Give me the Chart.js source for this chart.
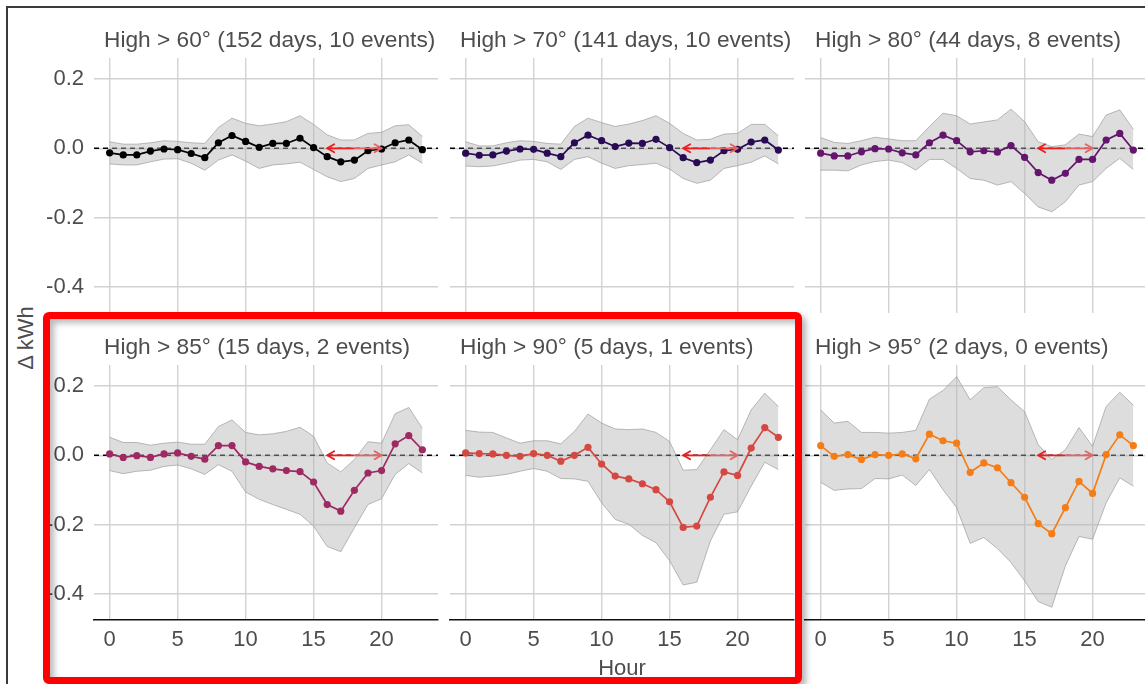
<!DOCTYPE html>
<html>
<head>
<meta charset="utf-8">
<script src="https://cdn.jsdelivr.net/npm/chart.js@4.4.1/dist/chart.umd.min.js"></script>
<style>
html,body{margin:0;padding:0;width:1145px;height:684px;overflow:hidden;background:#fff;font-family:"Liberation Sans",Arial,sans-serif;}
canvas{position:absolute;}
#frame{position:absolute;left:6px;top:6px;width:1200px;height:800px;border-left:2px solid #3a3a3a;border-top:2px solid #3a3a3a;}
#ylab{position:absolute;left:26px;top:338px;transform:translate(-50%,-50%) rotate(-90deg);font-size:22px;color:#4d4d4d;white-space:nowrap;}
#hl{position:absolute;left:43px;top:312px;width:759px;height:372px;box-sizing:border-box;border:7px solid #ff0000;border-radius:6px;box-shadow:4px 4px 6px rgba(0,0,0,.3), inset 4px 4px 6px rgba(0,0,0,.28);z-index:10;}
</style>
</head>
<body>
<div id="frame"></div>
<div id="ylab">Δ kWh</div>
<div id="root"></div>
<div id="hl"></div>
<script>
// ---------- data ----------
const HOURS = [0,1,2,3,4,5,6,7,8,9,10,11,12,13,14,15,16,17,18,19,20,21,22,23];
const PANEL_TITLES = [
  'High > 60° (152 days, 10 events)',
  'High > 70° (141 days, 10 events)',
  'High > 80° (44 days, 8 events)',
  'High > 85° (15 days, 2 events)',
  'High > 90° (5 days, 1 events)',
  'High > 95° (2 days, 0 events)'
];
const SERIES_COLORS = ['#000004','#280B54','#65156E','#9F2A63','#D44842','#F57D15'];

const MEAN_60  = [-0.013,-0.019,-0.019,-0.008,-0.002,-0.004,-0.015,-0.027,0.016,0.037,0.020,0.003,0.014,0.014,0.029,0.002,-0.024,-0.039,-0.034,-0.007,-0.002,0.016,0.024,-0.004];
const UPPER_60 = [0.019,0.012,0.012,0.016,0.022,0.020,0.016,0.014,0.060,0.087,0.072,0.065,0.070,0.077,0.094,0.069,0.039,0.024,0.024,0.043,0.046,0.065,0.068,0.034];
const LOWER_60 = [-0.045,-0.048,-0.048,-0.039,-0.031,-0.030,-0.043,-0.063,-0.034,-0.019,-0.037,-0.058,-0.048,-0.045,-0.040,-0.061,-0.082,-0.096,-0.087,-0.058,-0.048,-0.039,-0.019,-0.043];

const MEAN_70  = [-0.014,-0.020,-0.019,-0.008,-0.002,-0.003,-0.014,-0.024,0.016,0.038,0.022,0.005,0.015,0.014,0.026,0.002,-0.027,-0.041,-0.034,-0.007,-0.003,0.018,0.024,-0.005];
const UPPER_70 = [0.019,0.007,0.007,0.016,0.022,0.020,0.014,0.012,0.063,0.087,0.074,0.063,0.070,0.080,0.094,0.072,0.043,0.024,0.026,0.041,0.043,0.069,0.069,0.036];
const LOWER_70 = [-0.051,-0.053,-0.051,-0.043,-0.034,-0.032,-0.039,-0.061,-0.032,-0.024,-0.043,-0.058,-0.050,-0.047,-0.043,-0.060,-0.087,-0.101,-0.092,-0.058,-0.050,-0.040,-0.022,-0.045];

const MEAN_80  = [-0.014,-0.022,-0.022,-0.010,-0.001,-0.002,-0.013,-0.019,0.016,0.038,0.022,-0.010,-0.007,-0.011,0.008,-0.026,-0.070,-0.092,-0.072,-0.032,-0.032,0.024,0.043,-0.005];
const UPPER_80 = [0.031,0.017,0.014,0.022,0.032,0.027,0.022,0.022,0.063,0.101,0.094,0.070,0.076,0.082,0.113,0.077,0.019,0.005,0.010,0.041,0.034,0.096,0.111,0.055];
const LOWER_80 = [-0.063,-0.063,-0.065,-0.048,-0.038,-0.034,-0.041,-0.063,-0.032,-0.032,-0.058,-0.087,-0.092,-0.106,-0.096,-0.130,-0.169,-0.183,-0.154,-0.106,-0.096,-0.058,-0.029,-0.061];

const MEAN_85  = [0.004,-0.006,-0.001,-0.006,0.004,0.007,-0.003,-0.011,0.028,0.028,-0.019,-0.032,-0.039,-0.044,-0.047,-0.077,-0.142,-0.161,-0.101,-0.051,-0.044,0.033,0.057,0.016];
const UPPER_85 = [0.052,0.037,0.037,0.029,0.035,0.038,0.032,0.032,0.083,0.102,0.066,0.059,0.062,0.069,0.081,0.055,-0.022,-0.048,-0.012,0.039,0.035,0.120,0.138,0.078];
const LOWER_85 = [-0.044,-0.053,-0.046,-0.043,-0.032,-0.028,-0.039,-0.055,-0.027,-0.046,-0.106,-0.127,-0.142,-0.156,-0.170,-0.204,-0.263,-0.278,-0.209,-0.142,-0.125,-0.055,-0.024,-0.051];

const MEAN_90  = [0.007,0.005,0.004,0.000,-0.003,0.005,0.000,-0.017,0.000,0.023,-0.025,-0.060,-0.068,-0.082,-0.099,-0.134,-0.208,-0.204,-0.121,-0.048,-0.058,0.021,0.080,0.052];
const UPPER_90 = [0.072,0.067,0.066,0.050,0.035,0.042,0.042,0.033,0.069,0.119,0.093,0.076,0.074,0.076,0.066,0.040,-0.043,-0.041,0.016,0.074,0.045,0.131,0.179,0.141];
const LOWER_90 = [-0.058,-0.063,-0.060,-0.055,-0.046,-0.038,-0.046,-0.067,-0.068,-0.075,-0.137,-0.185,-0.199,-0.231,-0.252,-0.304,-0.374,-0.366,-0.247,-0.170,-0.163,-0.089,-0.020,-0.041];

const MEAN_95  = [0.028,-0.003,0.002,-0.012,0.002,0.000,0.004,-0.010,0.061,0.042,0.035,-0.049,-0.022,-0.036,-0.079,-0.121,-0.197,-0.226,-0.151,-0.075,-0.110,0.002,0.059,0.028];
const UPPER_95 = [0.131,0.093,0.098,0.066,0.066,0.064,0.066,0.072,0.162,0.187,0.227,0.160,0.195,0.198,0.160,0.126,0.031,-0.012,0.016,0.080,0.026,0.141,0.182,0.145];
const LOWER_95 = [-0.078,-0.101,-0.097,-0.096,-0.067,-0.068,-0.057,-0.087,-0.041,-0.099,-0.151,-0.254,-0.237,-0.269,-0.309,-0.362,-0.422,-0.438,-0.319,-0.234,-0.242,-0.137,-0.065,-0.089];

const X_TICKS = [0,5,10,15,20];
const X_TICK_LABELS = ['0','5','10','15','20'];
const Y_TICKS = [-0.4,-0.2,0,0.2];
const Y_TICK_LABELS = ['-0.4','-0.2','0.0','0.2'];
const EVENT_WINDOW = [16, 20];
const ZERO_LINE = 0;
const X_TITLE = 'Hour';

const MEANS  = [MEAN_60, MEAN_70, MEAN_80, MEAN_85, MEAN_90, MEAN_95];
const UPPERS = [UPPER_60, UPPER_70, UPPER_80, UPPER_85, UPPER_90, UPPER_95];
const LOWERS = [LOWER_60, LOWER_70, LOWER_80, LOWER_85, LOWER_90, LOWER_95];

// ---------- layout / style ----------
const FONT = '"Liberation Sans", Arial, sans-serif';
const TEXT = '#4d4d4d';
const GRID = '#d2d2d2';
const RIBBON_FILL = 'rgba(180,180,180,0.45)';
const RIBBON_EDGE = 'rgba(150,150,150,0.65)';
const RED1 = '#ee1c1c';
const RED2 = '#e26464';
const XMIN = -1.15, XMAX = 24.15, YMIN = -0.475, YMAX = 0.2605;
const PANEL_W = 344, PANEL_H = 255;
const COL_X = [94, 450, 805], ROW_Y = [58, 365];
const PAD_L = 70, PAD_T = 50, PAD_R = 4, PAD_B = 65;

const refLine = {
  id: 'refLine',
  beforeDatasetsDraw(chart) {
    const {ctx, chartArea: a, scales: {y}} = chart;
    const py = y.getPixelForValue(ZERO_LINE);
    ctx.save();
    ctx.strokeStyle = '#000';
    ctx.lineWidth = 1.5;
    ctx.setLineDash([5, 4]);
    ctx.beginPath(); ctx.moveTo(a.left, py); ctx.lineTo(a.right, py); ctx.stroke();
    ctx.restore();
  }
};
const arrowHeads = {
  id: 'arrowHeads',
  afterDatasetsDraw(chart) {
    const pts = chart.getDatasetMeta(3).data;
    if (!pts || pts.length < 2) return;
    const a = pts[0], b = pts[pts.length - 1];
    const {ctx} = chart;
    const L = 7, H = 4;
    ctx.save();
    ctx.lineWidth = 1.8;
    ctx.lineCap = 'round';
    ctx.strokeStyle = RED1;
    ctx.beginPath(); ctx.moveTo(a.x + L, a.y - H); ctx.lineTo(a.x, a.y); ctx.lineTo(a.x + L, a.y + H); ctx.stroke();
    ctx.strokeStyle = RED2;
    ctx.beginPath(); ctx.moveTo(b.x - L, b.y - H); ctx.lineTo(b.x, b.y); ctx.lineTo(b.x - L, b.y + H); ctx.stroke();
    ctx.restore();
  }
};
const stripTitle = {
  id: 'stripTitle',
  afterDraw(chart, args, opts) {
    const {ctx, chartArea: a} = chart;
    ctx.save();
    ctx.font = '22.7px ' + FONT;
    ctx.fillStyle = TEXT;
    ctx.textAlign = 'left';
    ctx.textBaseline = 'alphabetic';
    ctx.fillText(opts.text, a.left + 10, a.top - 11.5);
    ctx.restore();
  }
};

const root = document.getElementById('root');
for (let p = 0; p < 6; p++) {
  const r = Math.floor(p / 3), c = p % 3;
  const cv = document.createElement('canvas');
  const w = PAD_L + PANEL_W + PAD_R, h = PAD_T + PANEL_H + PAD_B;
  cv.width = w; cv.height = h;
  cv.style.left = (COL_X[c] - PAD_L) + 'px';
  cv.style.top = (ROW_Y[r] - PAD_T) + 'px';
  cv.style.width = w + 'px'; cv.style.height = h + 'px';
  root.appendChild(cv);
  const col = SERIES_COLORS[p];
  const toXY = arr => HOURS.map((hr, i) => ({x: hr, y: arr[i]}));
  new Chart(cv, {
    type: 'line',
    data: {
      datasets: [
        {data: toXY(MEANS[p]), borderColor: col, backgroundColor: col, borderWidth: 1.7,
         pointRadius: 3.6, pointBorderWidth: 0, pointBackgroundColor: col, fill: false, order: 1},
        {data: toXY(UPPERS[p]), borderColor: RIBBON_EDGE, borderWidth: 1, pointRadius: 0,
         backgroundColor: RIBBON_FILL, fill: '+1', order: 3},
        {data: toXY(LOWERS[p]), borderColor: RIBBON_EDGE, borderWidth: 1, pointRadius: 0, fill: false, order: 2},
        {data: EVENT_WINDOW.map(hr => ({x: hr, y: ZERO_LINE})), borderWidth: 1.8, pointRadius: 0, fill: false, order: 0,
         borderColor: (ctx) => {
           const ch = ctx.chart;
           if (!ch.chartArea) return RED1;
           const xs = ch.scales.x;
           const g = ch.ctx.createLinearGradient(xs.getPixelForValue(EVENT_WINDOW[0]), 0, xs.getPixelForValue(EVENT_WINDOW[1]), 0);
           g.addColorStop(0, RED1); g.addColorStop(0.5, RED1); g.addColorStop(0.5, RED2); g.addColorStop(1, RED2);
           return g;
         }}
      ]
    },
    options: {
      responsive: false,
      animation: false,
      devicePixelRatio: 1,
      events: [],
      layout: {padding: {left: 0, top: PAD_T, right: PAD_R, bottom: 0}},
      elements: {line: {tension: 0}},
      plugins: {
        legend: {display: false},
        tooltip: {enabled: false},
        stripTitle: {text: PANEL_TITLES[p]}
      },
      scales: {
        x: {
          type: 'linear', min: XMIN, max: XMAX,
          afterBuildTicks: s => { s.ticks = X_TICKS.map(v => ({value: v})); },
          afterFit: s => { s.height = PAD_B; },
          grid: {color: GRID, lineWidth: 1.4, drawTicks: false},
          border: {display: r === 1, color: '#111', width: 1.4},
          ticks: {display: r === 1, padding: 7, autoSkip: false, maxRotation: 0, color: TEXT,
                  font: {size: 22, family: FONT},
                  callback: (v, i) => X_TICK_LABELS[i]},
          title: {display: p === 4, text: X_TITLE, color: TEXT, font: {size: 22, family: FONT},
                  padding: {top: 0, bottom: 3}}
        },
        y: {
          type: 'linear', min: YMIN, max: YMAX,
          afterBuildTicks: s => { s.ticks = Y_TICKS.map(v => ({value: v})); },
          afterFit: s => { s.width = PAD_L; },
          grid: {color: GRID, lineWidth: 1.4, drawTicks: false},
          border: {display: false},
          ticks: {display: c === 0, padding: 10, color: TEXT, font: {size: 22, family: FONT},
                  callback: (v, i) => Y_TICK_LABELS[i]}
        }
      }
    },
    plugins: [refLine, arrowHeads, stripTitle]
  });
}
</script>
</body>
</html>
